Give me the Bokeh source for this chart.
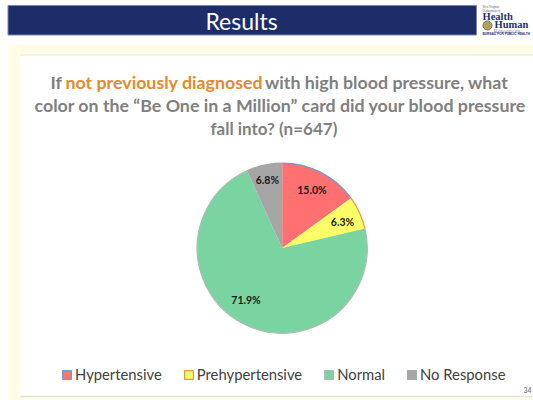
import math
from bokeh.plotting import figure
from bokeh.models import ColumnDataSource, Legend, LegendItem, Range1d
from bokeh.core.properties import value
from bokeh.embed import file_html
from bokeh.resources import INLINE

# ---- data ----
categories = ["Hypertensive", "Prehypertensive", "Normal", "No Response"]
percent = [15.0, 6.3, 71.9, 6.8]
labels = ["15.0%", "6.3%", "71.9%", "6.8%"]
fills = ["#FF7171", "#FFFF66", "#7AD4A1", "#A6A6A6"]
edges = ["#6F9BD1", "#F0943C", "#A9BDAF", "#A6A6A6"]
title_lines = [
    [("If ", "#7F7F7F"), ("not previously diagnosed", "#E38A2E"), (" with high blood pressure, what", "#7F7F7F")],
    [("color on the \u201cBe One in a Million\u201d card did your blood pressure", "#7F7F7F")],
    [("fall into? (n=647)", "#7F7F7F")],
]
heading = "Results"
page_number = "34"

W, H = 533, 400


def X(x):
    return x


def Y(y):
    return H - y


p = figure(width=W, height=H, output_backend="svg", toolbar_location=None,
           x_range=Range1d(0, W), y_range=Range1d(0, H), min_border=0,
           outline_line_color=None, background_fill_color="white", border_fill_color="white")
p.axis.visible = False
p.grid.visible = False
FONT = value("Lato")

# slide background
p.quad(left=[X(8)], right=[X(533)], bottom=[Y(400)], top=[Y(44)], fill_color="#FFFDE6", line_color=None)
p.quad(left=[X(20)], right=[X(533)], bottom=[Y(396)], top=[Y(55)], fill_color="#FFFFFF", line_color=None)
p.segment(x0=[X(20)], x1=[X(533)], y0=[Y(54.5)], y1=[Y(54.5)], line_color="#E4E4DC", line_width=1)
p.segment(x0=[X(20)], x1=[X(533)], y0=[Y(396)], y1=[Y(396)], line_color="#E0E0E0", line_width=1.5)
p.quad(left=[X(7.5)], right=[X(476)], bottom=[Y(34.5)], top=[Y(5)], fill_color="#1D2D6A", line_color="#7C86A8", line_width=1)
p.text(x=[X(241)], y=[Y(20)], text=[heading], text_font=FONT, text_font_size="23px",
       text_color="white", text_align="center", text_baseline="middle")

# logo
SERIF = value("Liberation Serif")
p.text(x=[X(482)], y=[Y(15.5)], text=["Health"], text_font=SERIF, text_font_size="10.5px",
       text_font_style="bold", text_color="#23307A", text_baseline="middle")
p.text(x=[X(494)], y=[Y(24)], text=["Human"], text_font=SERIF, text_font_size="10.5px",
       text_font_style="bold", text_color="#23307A", text_baseline="middle")
p.circle(x=[X(487)], y=[Y(25)], radius=4.5, fill_color="#B3A05C", line_color="#5E7F4F")
p.text(x=[X(482), X(482)], y=[Y(6.5), Y(10)], text=["West Virginia", "Department of"], text_font=SERIF,
       text_font_size="3px", text_color="#555577", text_baseline="middle")
p.text(x=[X(493)], y=[Y(29.5)], text=["Resources"], text_font=SERIF, text_font_size="6.5px",
       text_color="#8A90B8", text_baseline="middle")
p.text(x=[X(482)], y=[Y(33.7)], text=["BUREAU FOR PUBLIC HEALTH"], text_font=value("Liberation Sans"),
       text_font_size="3.2px", text_font_style="bold", text_color="#23307A", text_baseline="middle")

# title
title_starts = [50, 34, 210]
title_y = [81, 104.5, 127.5]
title_sizes = [17.8, 17.8, 17]
seg_widths = [[15, 199.5, 243], [490], [135]]
for line, sx, sy, ts, ws in zip(title_lines, title_starts, title_y, title_sizes, seg_widths):
    cx = sx
    for (txt, col), w in zip(line, ws):
        p.text(x=[X(cx)], y=[Y(sy)], text=[txt], text_font=FONT, text_font_size=f"{ts}px",
               text_font_style="bold", text_color=col, text_baseline="middle")
        cx += w

# pie, clockwise from the top
CX, CY, R = 281.7, 247.6, 85
starts, ends, mids = [], [], []
total = sum(percent)
acc = 0.0
for v in percent:
    a0 = math.pi / 2 - 2 * math.pi * acc / total
    acc += v
    a1 = math.pi / 2 - 2 * math.pi * acc / total
    starts.append(a0)
    ends.append(a1)
    mids.append((a0 + a1) / 2)

src = ColumnDataSource(dict(x=[X(CX)] * 4, y=[Y(CY)] * 4, start=starts, end=ends, fill=fills, edge=edges))
p.wedge(x="x", y="y", radius=R, start_angle="start", end_angle="end", direction="clock",
        fill_color="fill", line_color=None, source=src)
p.arc(x="x", y="y", radius=R, start_angle="start", end_angle="end", direction="clock",
      line_color="edge", line_width=1.2, source=src)

# data labels
lab_r = [0.77, 0.78, 0.78, 0.82]
lab_x = [X(CX) + R * r * math.cos(m) for r, m in zip(lab_r, mids)]
lab_y = [Y(CY) + R * r * math.sin(m) for r, m in zip(lab_r, mids)]
# PowerPoint shifted the large slice's label towards the lower left
lab_x[2] = X(245.5)
lab_y[2] = Y(299)
lab_y[1] -= 2
p.text(x=lab_x, y=lab_y, text=labels, text_font=FONT, text_font_size="10.5px", text_font_style="bold",
       text_color="#1A1A1A", text_align="center", text_baseline="middle")

# legend
nan = float("nan")
items = []
for cat, f, e in zip(categories, fills, edges):
    r = p.quad(left=[nan], right=[nan], bottom=[nan], top=[nan], fill_color=f, line_color=e, line_width=1.2)
    items.append(LegendItem(label=cat, renderers=[r]))
legend = Legend(items=items, orientation="horizontal", location=(X(61), Y(383)), background_fill_alpha=0,
                border_line_color=None, glyph_width=11, glyph_height=11, label_standoff=3, spacing=21,
                label_text_font="Lato", label_text_font_size="14.8px", label_text_color="#404040",
                padding=4, margin=0, label_height=14)
p.add_layout(legend, "center")

# page number
p.text(x=[X(527)], y=[Y(389)], text=[page_number], text_font=FONT, text_font_size="7px",
       text_color="#666666", text_align="center", text_baseline="middle")

open("out.html", "w").write(file_html(p, INLINE))
